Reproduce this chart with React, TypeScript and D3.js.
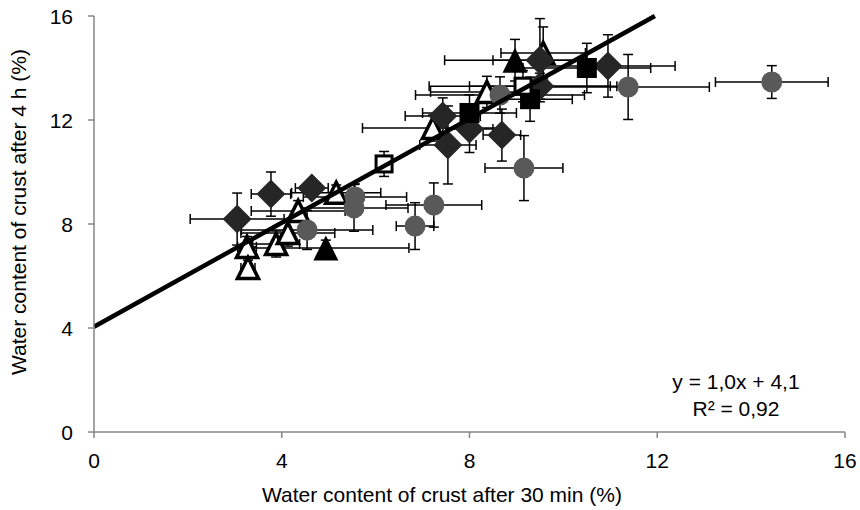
import React from "react";
import * as d3 from "d3";

const W = 860, H = 510;
const margin = { left: 94, right: 15, top: 16, bottom: 78 };

const xTicks = [0, 4, 8, 12, 16];
const yTicks = [0, 4, 8, 12, 16];

// [x, y, xErr, yErr]
const diamonds: number[][] = [
  [3.05, 8.19, 1.0, 1.0],
  [3.77, 9.15, 0.42, 0.85],
  [4.64, 9.38, 0.35, 0.3],
  [7.43, 12.15, 0.8, 0.7],
  [7.54, 11.04, 0.6, 1.5],
  [8.0, 11.65, 0.5, 0.9],
  [8.69, 11.42, 0.4, 1.0],
  [9.5, 14.3, 1.0, 1.6],
  [10.95, 14.08, 1.43, 1.2],
  [9.5, 13.3, 1.5, 0.5],
];
const circles: number[][] = [
  [4.54, 7.77, 1.4, 0.75],
  [5.56, 9.04, 1.1, 0.5],
  [5.54, 8.62, 1.15, 0.9],
  [6.84, 7.92, 0.4, 0.9],
  [7.24, 8.73, 1.02, 0.85],
  [9.16, 10.15, 0.83, 1.25],
  [8.65, 12.96, 1.8, 0.7],
  [11.38, 13.27, 1.73, 1.25],
  [14.44, 13.46, 1.2, 0.63],
];
const filledSquares: number[][] = [
  [8.0, 12.27, 1.0, 0.7],
  [9.29, 12.8, 0.9, 0.85],
  [10.5, 14.0, 1.36, 0.95],
];
const openSquares: number[][] = [
  [6.18, 10.31, 0.15, 0.48],
  [9.14, 13.3, 2.0, 0.6],
];
const filledTriangles: number[][] = [
  [4.94, 7.08, 1.77, 0.3],
  [8.97, 14.3, 1.5, 0.8],
];
const openTriangles: number[][] = [
  [3.26, 7.12, 0.2, 0.4],
  [3.28, 6.31, 0.15, 0.3],
  [3.88, 7.23, 0.5, 0.5],
  [4.13, 7.65, 1.0, 0.5],
  [4.35, 8.5, 1.0, 0.4],
  [5.16, 9.2, 0.95, 0.3],
  [7.22, 11.69, 1.5, 0.5],
  [8.37, 13.08, 1.2, 0.6],
  [9.57, 14.58, 0.9, 1.0],
];

const slope = 1.0;
const intercept = 4.05;

const x = d3.scaleLinear().domain([0, 16]).range([margin.left, W - margin.right]);
const y = d3.scaleLinear().domain([0, 16]).range([H - margin.bottom, margin.top]);

const font = "Liberation Sans, Arial, sans-serif";
const axisColor = "#868686";

function ErrorBars({ data }: { data: number[][] }) {
  const cap = 5;
  return (
    <g stroke="#000" strokeWidth={1.5} fill="none">
      {data.map((d, i) => {
        const cx = x(d[0]), cy = y(d[1]);
        const x0 = x(d[0] - d[2]), x1 = x(d[0] + d[2]);
        const y0 = y(d[1] - d[3]), y1 = y(d[1] + d[3]);
        return (
          <g key={i}>
            <line x1={x0} x2={x1} y1={cy} y2={cy} />
            <line x1={x0} x2={x0} y1={cy - cap} y2={cy + cap} />
            <line x1={x1} x2={x1} y1={cy - cap} y2={cy + cap} />
            <line x1={cx} x2={cx} y1={y0} y2={y1} />
            <line x1={cx - cap} x2={cx + cap} y1={y0} y2={y0} />
            <line x1={cx - cap} x2={cx + cap} y1={y1} y2={y1} />
          </g>
        );
      })}
    </g>
  );
}

export default function App() {
  const allSeries = [openTriangles, filledTriangles, diamonds, circles, filledSquares, openSquares];
  const xEnd = (16 - intercept) / slope;
  const tri = (cx: number, cy: number, s: number) =>
    `M${cx},${cy - s / 2} L${cx + s / 2},${cy + s / 2} L${cx - s / 2},${cy + s / 2} Z`;
  return (
    <svg
      width={W}
      height={H}
      style={{ position: "absolute", left: 0, top: 0, background: "#fff" }}
      fontFamily={font}
    >
      {allSeries.map((s, i) => (
        <ErrorBars key={i} data={s} />
      ))}
      {openTriangles.map((d, i) => (
        <path key={"ot" + i} d={tri(x(d[0]), y(d[1]), 21)} fill="#fff" stroke="#000" strokeWidth={3.5} strokeLinejoin="miter" />
      ))}
      {filledTriangles.map((d, i) => (
        <path key={"ft" + i} d={tri(x(d[0]), y(d[1]), 25)} fill="#000" />
      ))}
      {diamonds.map((d, i) => {
        const cx = x(d[0]), cy = y(d[1]), r = 14.5;
        return (
          <path key={"dm" + i} d={`M${cx},${cy - r} L${cx + r},${cy} L${cx},${cy + r} L${cx - r},${cy} Z`} fill="#262626" />
        );
      })}
      {circles.map((d, i) => (
        <circle key={"c" + i} cx={x(d[0])} cy={y(d[1])} r={10.5} fill="#595959" />
      ))}
      {filledSquares.map((d, i) => (
        <rect key={"fs" + i} x={x(d[0]) - 10} y={y(d[1]) - 10} width={20} height={20} fill="#000" />
      ))}
      {openSquares.map((d, i) => (
        <rect key={"os" + i} x={x(d[0]) - 8} y={y(d[1]) - 8} width={16} height={16} fill="#fff" stroke="#000" strokeWidth={3} />
      ))}
      <line
        x1={x(0)}
        y1={y(intercept)}
        x2={x(xEnd)}
        y2={y(16)}
        stroke="#000"
        strokeWidth={4.5}
      />
      <line x1={x(0)} x2={x(16)} y1={y(0)} y2={y(0)} stroke={axisColor} strokeWidth={1.5} />
      <line x1={x(0)} x2={x(0)} y1={y(0)} y2={y(16)} stroke={axisColor} strokeWidth={1.5} />
      {xTicks.map((t) => (
        <g key={"xt" + t}>
          <line x1={x(t)} x2={x(t)} y1={y(0)} y2={y(0) + 6} stroke={axisColor} strokeWidth={1.5} />
          <text x={x(t)} y={468} textAnchor="middle" fontSize={21} fill="#000">
            {t}
          </text>
        </g>
      ))}
      {yTicks.map((t) => (
        <g key={"yt" + t}>
          <line x1={x(0) - 6} x2={x(0)} y1={y(t)} y2={y(t)} stroke={axisColor} strokeWidth={1.5} />
          <text x={73} y={y(t) + 7.5} textAnchor="end" fontSize={21} fill="#000">
            {t}
          </text>
        </g>
      ))}
      <text x={442} y={502} textAnchor="middle" fontSize={21} fill="#000">
        Water content of crust after 30 min (%)
      </text>
      <text
        transform={`translate(26, 212) rotate(-90)`}
        textAnchor="middle"
        fontSize={21}
        fill="#000"
      >
        Water content of crust after 4 h (%)
      </text>
      <text x={736} y={389} textAnchor="middle" fontSize={21} fill="#000">
        y = 1,0x + 4,1
      </text>
      <text x={736} y={416} textAnchor="middle" fontSize={21} fill="#000">
        R² = 0,92
      </text>
    </svg>
  );
}
